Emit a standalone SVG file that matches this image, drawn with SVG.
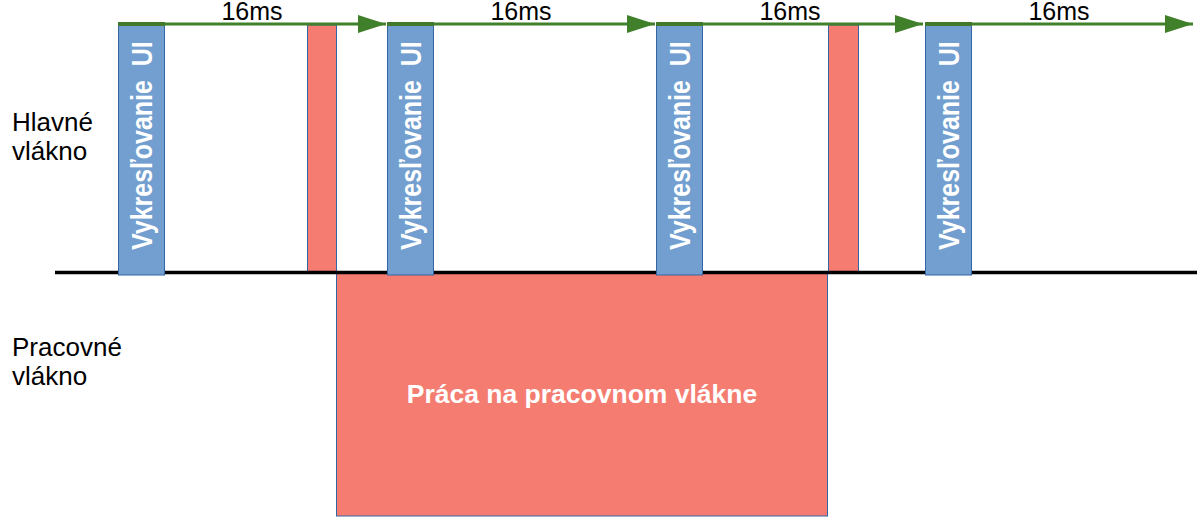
<svg xmlns="http://www.w3.org/2000/svg" width="1200" height="517" viewBox="0 0 1200 517">
<defs>
<style>
.ui{fill:#729fcf;stroke:#3465a4;stroke-width:1}
.work{fill:#f47c70;stroke:#3465a4;stroke-width:1}
.cap{fill:#41782a}
.lbl{font-family:"Liberation Sans",Arial,sans-serif;font-size:26px;fill:#000}
.ms{font-family:"Liberation Sans",Arial,sans-serif;font-size:25px;fill:#000}
.vt{font-family:"Liberation Sans",Arial,sans-serif;font-size:25px;font-weight:bold;fill:#fff;white-space:pre}
.big{font-family:"Liberation Sans",Arial,sans-serif;font-size:26.5px;font-weight:bold;fill:#fff}
.arrow{stroke:#41802a;stroke-width:3;fill:none}
</style>
<marker id="ah" markerWidth="28" markerHeight="18" refX="28" refY="9" orient="auto" markerUnits="userSpaceOnUse">
<path d="M0,0 L28,9 L0,18 Z" fill="#41802a"/>
</marker>
</defs>
<rect width="1200" height="517" fill="#fff"/>
<g id="labels">
<text class="lbl" x="12" y="131">Hlavné</text>
<text class="lbl" x="12" y="160">vlákno</text>
<text class="lbl" x="12" y="356">Pracovné</text>
<text class="lbl" x="12" y="385">vlákno</text>
</g>
<g id="worker-task">
<rect class="work" x="336.5" y="272" width="491" height="244"/>
<text class="big" x="582" y="403" text-anchor="middle">Práca na pracovnom vlákne</text>
</g>
<g id="work-1"><rect class="work" x="307.5" y="25" width="29" height="247"/></g>
<g id="work-2"><rect class="work" x="828.5" y="25" width="30" height="247"/></g>
<g id="baseline"><line x1="55" y1="272.5" x2="1197" y2="272.5" stroke="#000" stroke-width="3.5"/></g>
<g id="ui-1">
<rect class="ui" x="118.5" y="24.5" width="46" height="250.5"/>
<text class="vt" xml:space="preserve" transform="translate(152,250) rotate(-90) scale(1,1.15)">Vykresľovanie  UI</text>
</g>
<g id="ui-2">
<rect class="ui" x="387.5" y="24.5" width="46" height="250.5"/>
<text class="vt" xml:space="preserve" transform="translate(421,250) rotate(-90) scale(1,1.15)">Vykresľovanie  UI</text>
</g>
<g id="ui-3">
<rect class="ui" x="656.5" y="24.5" width="46" height="250.5"/>
<text class="vt" xml:space="preserve" transform="translate(690,250) rotate(-90) scale(1,1.15)">Vykresľovanie  UI</text>
</g>
<g id="ui-4">
<rect class="ui" x="925.5" y="24.5" width="46" height="250.5"/>
<text class="vt" xml:space="preserve" transform="translate(959,250) rotate(-90) scale(1,1.15)">Vykresľovanie  UI</text>
</g>
<g id="connectors">
<line class="arrow" x1="118" y1="24" x2="386" y2="24" marker-end="url(#ah)"/>
<line class="arrow" x1="387" y1="24" x2="655" y2="24" marker-end="url(#ah)"/>
<line class="arrow" x1="656" y1="24" x2="923" y2="24" marker-end="url(#ah)"/>
<line class="arrow" x1="925" y1="24" x2="1193" y2="24" marker-end="url(#ah)"/>
<rect class="cap" x="118" y="22" width="47" height="4"/>
<rect class="cap" x="387" y="22" width="47" height="4"/>
<rect class="cap" x="656" y="22" width="47" height="4"/>
<rect class="cap" x="925" y="22" width="47" height="4"/>
<text class="ms" x="252" y="19.5" text-anchor="middle">16ms</text>
<text class="ms" x="521" y="19.5" text-anchor="middle">16ms</text>
<text class="ms" x="790" y="19.5" text-anchor="middle">16ms</text>
<text class="ms" x="1059" y="19.5" text-anchor="middle">16ms</text>
</g>
</svg>
